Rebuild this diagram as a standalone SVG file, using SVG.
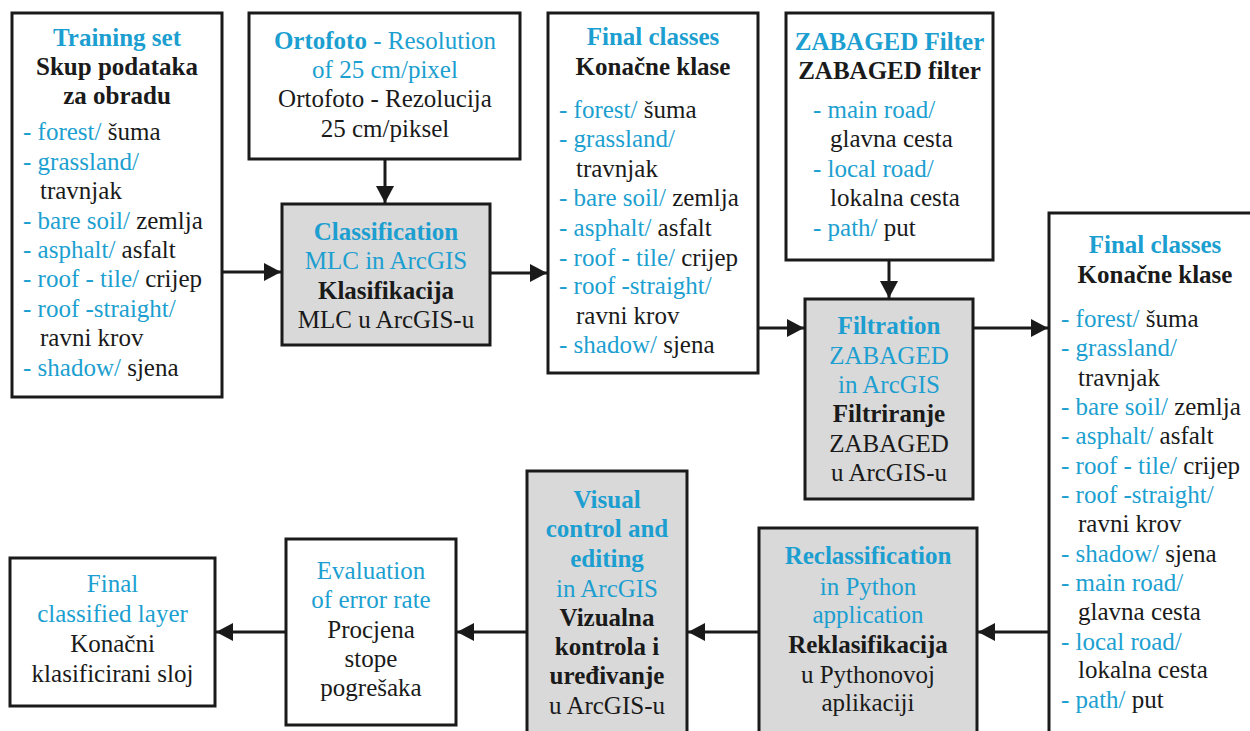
<svg xmlns="http://www.w3.org/2000/svg" width="1250" height="731" viewBox="0 0 1250 731">
<style>
.box{fill:#ffffff;stroke:#1a1a1a;stroke-width:3}
.gray{fill:#d9d9d9}
text{font-family:"Liberation Serif","Times New Roman",serif;font-size:25px;fill:#1a1a1a}
.c{text-anchor:middle}
.bl{fill:#1c9fd0}
.bd{font-weight:bold}
.conn{stroke:#1a1a1a;stroke-width:3;fill:none;marker-end:url(#arr)}
</style>
<defs>
<marker id="arr" markerUnits="userSpaceOnUse" markerWidth="17" markerHeight="18" refX="17" refY="9" orient="auto">
<path d="M0,0 L17,9 L0,18 Z" fill="#1a1a1a"/>
</marker>
</defs>
<rect width="1250" height="731" fill="#ffffff"/>

<g id="training">
<rect class="box" x="12" y="13" width="210" height="384"/>
<text class="c bl bd" x="117" y="46">Training set</text>
<text class="c bd" x="117" y="75">Skup podataka</text>
<text class="c bd" x="117" y="104">za obradu</text>
<text x="23" y="140"><tspan class="bl">- forest/</tspan> šuma</text>
<text x="23" y="170" class="bl">- grassland/</text>
<text x="40" y="199">travnjak</text>
<text x="23" y="229"><tspan class="bl">- bare soil/</tspan> zemlja</text>
<text x="23" y="258"><tspan class="bl">- asphalt/</tspan> asfalt</text>
<text x="23" y="287"><tspan class="bl">- roof - tile/</tspan> crijep</text>
<text x="23" y="317" class="bl">- roof -straight/</text>
<text x="40" y="346">ravni krov</text>
<text x="23" y="376"><tspan class="bl">- shadow/</tspan> sjena</text>
</g>

<g id="ortofoto">
<rect class="box" x="249" y="13" width="271" height="146"/>
<text class="c bl" x="385" y="49"><tspan class="bd">Ortofoto</tspan> - Resolution</text>
<text class="c bl" x="385" y="78">of 25 cm/pixel</text>
<text class="c" x="385" y="107">Ortofoto - Rezolucija</text>
<text class="c" x="385" y="137">25 cm/piksel</text>
</g>

<g id="classification">
<rect class="box gray" x="282" y="204" width="208" height="141"/>
<text class="c bl bd" x="386" y="240">Classification</text>
<text class="c bl" x="386" y="269">MLC in ArcGIS</text>
<text class="c bd" x="386" y="299">Klasifikacija</text>
<text class="c" x="386" y="328">MLC u ArcGIS-u</text>
</g>

<g id="final-classes-1">
<rect class="box" x="548" y="13" width="210" height="360"/>
<text class="c bl bd" x="653" y="45">Final classes</text>
<text class="c bd" x="653" y="75">Konačne klase</text>
<text x="559" y="118"><tspan class="bl">- forest/</tspan> šuma</text>
<text x="559" y="147" class="bl">- grassland/</text>
<text x="576" y="177">travnjak</text>
<text x="559" y="206"><tspan class="bl">- bare soil/</tspan> zemlja</text>
<text x="559" y="236"><tspan class="bl">- asphalt/</tspan> asfalt</text>
<text x="559" y="266"><tspan class="bl">- roof - tile/</tspan> crijep</text>
<text x="559" y="294" class="bl">- roof -straight/</text>
<text x="576" y="324">ravni krov</text>
<text x="559" y="353"><tspan class="bl">- shadow/</tspan> sjena</text>
</g>

<g id="zabaged-filter">
<rect class="box" x="786" y="13" width="207" height="247"/>
<text class="c bl bd" x="889.5" y="50">ZABAGED Filter</text>
<text class="c bd" x="889.5" y="79">ZABAGED filter</text>
<text x="813" y="118" class="bl">- main road/</text>
<text x="830" y="147">glavna cesta</text>
<text x="813" y="177" class="bl">- local road/</text>
<text x="830" y="206">lokalna cesta</text>
<text x="813" y="236"><tspan class="bl">- path/</tspan> put</text>
</g>

<g id="filtration">
<rect class="box gray" x="805" y="299" width="168" height="200"/>
<text class="c bl bd" x="889" y="334">Filtration</text>
<text class="c bl" x="889" y="364">ZABAGED</text>
<text class="c bl" x="889" y="393">in ArcGIS</text>
<text class="c bd" x="889" y="422">Filtriranje</text>
<text class="c" x="889" y="452">ZABAGED</text>
<text class="c" x="889" y="481">u ArcGIS-u</text>
</g>

<g id="final-classes-2">
<rect class="box" x="1049" y="213" width="230" height="540"/>
<text class="c bl bd" x="1155" y="253">Final classes</text>
<text class="c bd" x="1155" y="283">Konačne klase</text>
<text x="1061" y="327"><tspan class="bl">- forest/</tspan> šuma</text>
<text x="1061" y="356" class="bl">- grassland/</text>
<text x="1078" y="386">travnjak</text>
<text x="1061" y="415"><tspan class="bl">- bare soil/</tspan> zemlja</text>
<text x="1061" y="444"><tspan class="bl">- asphalt/</tspan> asfalt</text>
<text x="1061" y="474"><tspan class="bl">- roof - tile/</tspan> crijep</text>
<text x="1061" y="503" class="bl">- roof -straight/</text>
<text x="1078" y="532">ravni krov</text>
<text x="1061" y="562"><tspan class="bl">- shadow/</tspan> sjena</text>
<text x="1061" y="591" class="bl">- main road/</text>
<text x="1078" y="620">glavna cesta</text>
<text x="1061" y="650" class="bl">- local road/</text>
<text x="1078" y="678">lokalna cesta</text>
<text x="1061" y="708"><tspan class="bl">- path/</tspan> put</text>
</g>

<g id="reclassification">
<rect class="box gray" x="759" y="528" width="218" height="230"/>
<text class="c bl bd" x="868" y="564">Reclassification</text>
<text class="c bl" x="868" y="595">in Python</text>
<text class="c bl" x="868" y="623">application</text>
<text class="c bd" x="868" y="653">Reklasifikacija</text>
<text class="c" x="868" y="683">u Pythonovoj</text>
<text class="c" x="868" y="711">aplikaciji</text>
</g>

<g id="visual-control">
<rect class="box gray" x="527" y="471" width="160" height="290"/>
<text class="c bl bd" x="607" y="508">Visual</text>
<text class="c bl bd" x="607" y="537">control and</text>
<text class="c bl bd" x="607" y="567">editing</text>
<text class="c bl" x="607" y="597">in ArcGIS</text>
<text class="c bd" x="607" y="626">Vizualna</text>
<text class="c bd" x="607" y="655">kontrola i</text>
<text class="c bd" x="607" y="684">uređivanje</text>
<text class="c" x="607" y="714">u ArcGIS-u</text>
</g>

<g id="evaluation">
<rect class="box" x="286" y="539" width="170" height="186"/>
<text class="c bl" x="371" y="579">Evaluation</text>
<text class="c bl" x="371" y="608">of error rate</text>
<text class="c" x="371" y="638">Procjena</text>
<text class="c" x="371" y="667">stope</text>
<text class="c" x="371" y="696">pogrešaka</text>
</g>

<g id="final-layer">
<rect class="box" x="10" y="558" width="205" height="148"/>
<text class="c bl" x="112.5" y="592">Final</text>
<text class="c bl" x="112.5" y="622">classified layer</text>
<text class="c" x="112.5" y="652">Konačni</text>
<text class="c" x="112.5" y="682">klasificirani sloj</text>
</g>

<g id="connectors">
<line class="conn" x1="385" y1="160" x2="385" y2="203"/>
<line class="conn" x1="223" y1="272" x2="281" y2="272"/>
<line class="conn" x1="491" y1="273" x2="547" y2="273"/>
<line class="conn" x1="889" y1="261" x2="889" y2="298"/>
<line class="conn" x1="759" y1="328" x2="804" y2="328"/>
<line class="conn" x1="974" y1="328" x2="1048" y2="328"/>
<line class="conn" x1="1048" y1="632" x2="978" y2="632"/>
<line class="conn" x1="758" y1="632" x2="688" y2="632"/>
<line class="conn" x1="526" y1="632" x2="457" y2="632"/>
<line class="conn" x1="285" y1="632" x2="216" y2="632"/>
</g>
</svg>
